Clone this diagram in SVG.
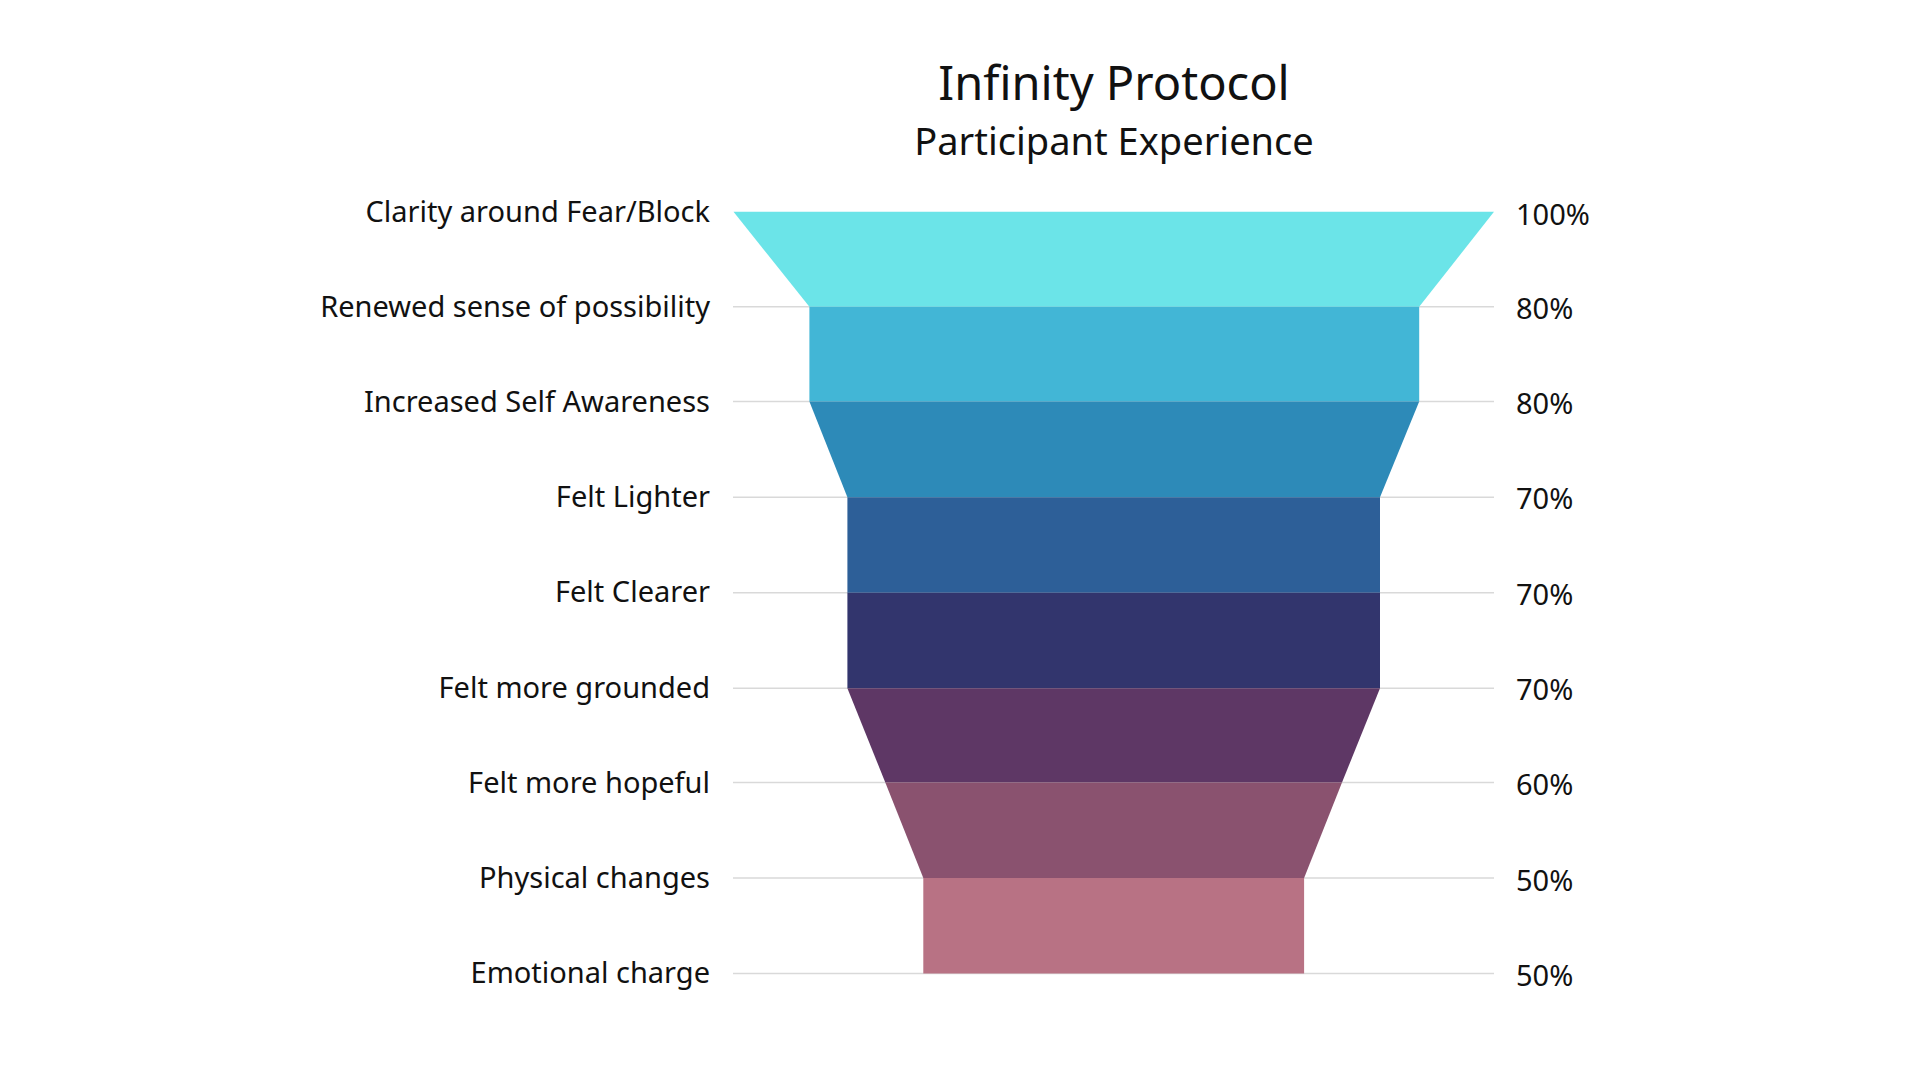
<svg xmlns="http://www.w3.org/2000/svg" width="1920" height="1080" viewBox="0 0 1920 1080">
<style>
text{font-family:"Noto Sans","Open Sans",sans-serif;fill:#111}
.l{font-size:29px;text-anchor:end;dominant-baseline:central}
.p{font-size:29px;dominant-baseline:central}
.g{stroke:#d9d9d9;stroke-width:1.5}
</style>
<rect width="1920" height="1080" fill="#fff"/>
<text x="1114" y="100" font-size="47" text-anchor="middle">Infinity Protocol</text>
<text x="1114" y="155" font-size="38" text-anchor="middle">Participant Experience</text>
<g id="connectors">
<line class="g" x1="733" y1="306.7" x2="1494" y2="306.7"/>
<line class="g" x1="733" y1="401.6" x2="1494" y2="401.6"/>
<line class="g" x1="733" y1="497.2" x2="1494" y2="497.2"/>
<line class="g" x1="733" y1="592.7" x2="1494" y2="592.7"/>
<line class="g" x1="733" y1="688.2" x2="1494" y2="688.2"/>
<line class="g" x1="733" y1="782.5" x2="1494" y2="782.5"/>
<line class="g" x1="733" y1="878" x2="1494" y2="878"/>
<line class="g" x1="733" y1="973.5" x2="1494" y2="973.5"/>
</g>
<g id="s1"><polygon points="733.5,211.8 1494,211.8 1419.2,306.7 809.4,306.7" fill="#6BE4E8"/><text class="l" x="710" y="210">Clarity around Fear/Block</text><text class="p" x="1516" y="213">100%</text></g>
<g id="s2"><polygon points="809.4,306.7 1419.2,306.7 1419.2,401.6 809.4,401.6" fill="#42B6D6"/><text class="l" x="710" y="305">Renewed sense of possibility</text><text class="p" x="1516" y="307">80%</text></g>
<g id="s3"><polygon points="809.4,401.6 1419.2,401.6 1380,497.2 847.4,497.2" fill="#2D8AB8"/><text class="l" x="710" y="400">Increased Self Awareness</text><text class="p" x="1516" y="402">80%</text></g>
<g id="s4"><polygon points="847.4,497.2 1380,497.2 1380,592.7 847.4,592.7" fill="#2D5F98"/><text class="l" x="710" y="495">Felt Lighter</text><text class="p" x="1516" y="497">70%</text></g>
<g id="s5"><polygon points="847.4,592.7 1380,592.7 1380,688.2 847.4,688.2" fill="#32356D"/><text class="l" x="710" y="590">Felt Clearer</text><text class="p" x="1516" y="593">70%</text></g>
<g id="s6"><polygon points="847.4,688.2 1380,688.2 1342,782.5 885.3,782.5" fill="#5E3765"/><text class="l" x="710" y="686">Felt more grounded</text><text class="p" x="1516" y="688">70%</text></g>
<g id="s7"><polygon points="885.3,782.5 1342,782.5 1304.1,878 923.3,878" fill="#8A526F"/><text class="l" x="710" y="781">Felt more hopeful</text><text class="p" x="1516" y="783">60%</text></g>
<g id="s8"><polygon points="923.3,878 1304.1,878 1304.1,973.5 923.3,973.5" fill="#B87284"/><text class="l" x="710" y="876">Physical changes</text><text class="p" x="1516" y="879">50%</text></g>
<g id="s9"><text class="l" x="710" y="971">Emotional charge</text><text class="p" x="1516" y="974">50%</text></g>
</svg>
